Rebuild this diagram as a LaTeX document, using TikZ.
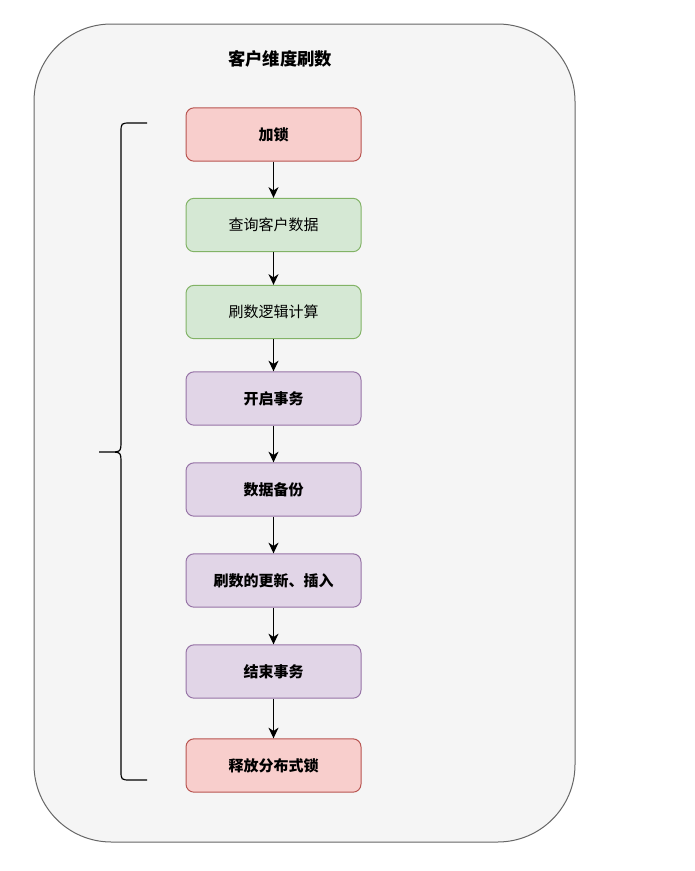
\documentclass[tikz,border=0pt]{standalone}
\usepackage{fontspec}
\newfontfamily\cjk{Noto Sans CJK SC}
\usetikzlibrary{arrows.meta}
\definecolor{outerfill}{HTML}{F5F5F5}
\definecolor{outerline}{HTML}{666666}
\definecolor{redfill}{HTML}{F8CECC}
\definecolor{redline}{HTML}{B85450}
\definecolor{greenfill}{HTML}{D5E8D4}
\definecolor{greenline}{HTML}{82B366}
\definecolor{purplefill}{HTML}{E1D5E7}
\definecolor{purpleline}{HTML}{9673A6}
\begin{document}
\begin{tikzpicture}[x=0.75pt,y=-0.75pt,
  box node/.style={rectangle,rounded corners=6pt,draw,line width=0.75pt,minimum width=131.25pt,minimum height=40pt,inner sep=2pt,font=\cjk\fontsize{11.25pt}{13pt}\selectfont},
  lock node/.style={box node,fill=redfill,draw=redline,font=\cjk\bfseries\fontsize{11.25pt}{13pt}\selectfont},
  query node/.style={box node,fill=greenfill,draw=greenline},
  tx node/.style={box node,fill=purplefill,draw=purpleline,font=\cjk\bfseries\fontsize{11.25pt}{13pt}\selectfont}]
  	\useasboundingbox (0,0) rectangle (694,871);
  	\draw[fill=outerfill,draw=outerline,line width=0.75pt,rounded corners=58pt] (34,24) rectangle (575,842);
  	\node[font=\cjk\bfseries\fontsize{13pt}{15pt}\selectfont] at (280,59) (title) {客户维度刷数};
  	
  	\node[lock node] at (273.5,134.5) (1) {加锁};
  	\node[query node] at (273.5,225) (2) {查询客户数据};
  	\node[query node] at (273.5,312) (3) {刷数逻辑计算};
  	\node[tx node] at (273.5,398.5) (4) {开启事务};
  	\node[tx node] at (273.5,489.5) (5) {数据备份};
  	\node[tx node] at (273.5,580.5) (6) {刷数的更新、插入};
  	\node[tx node] at (273.5,671.5) (7) {结束事务};
  	\node[lock node] at (273.5,765.5) (8) {释放分布式锁};
  	
  	% brace
  	\draw[line width=0.9pt] (147,123) -- (131,123) .. controls (121,123) .. (121,133) -- (121,440)
  	  .. controls (121,452) .. (109,452) -- (99,452)
  	  (109,452) .. controls (121,452) .. (121,464) -- (121,770)
  	  .. controls (121,780) .. (131,780) -- (147,780);
  	
  	\path[-{Stealth[length=8pt,width=7.5pt,inset=2.5pt]},line width=0.9pt]
  	(1) edge (2)
  	(2) edge (3)
  	(3) edge (4)
  	(4) edge (5)
  	(5) edge (6)
  	(6) edge (7)
  	(7) edge (8);
\end{tikzpicture}
\end{document}
